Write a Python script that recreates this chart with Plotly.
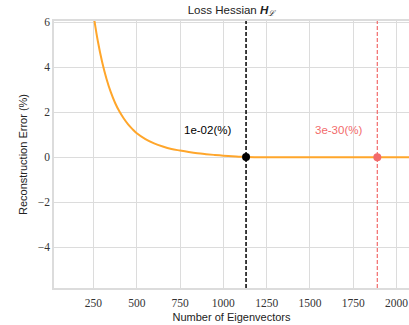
import plotly.graph_objects as go

# Data
eig_x = [250, 275, 300, 325, 350, 375, 400, 425, 450, 475, 500, 550, 600, 650, 700,
         750, 800, 850, 900, 950, 1000, 1050, 1100, 1131, 1200, 1300, 1400, 1500,
         1600, 1700, 1800, 1889, 1950, 2000, 2080]
err_y = [6.33, 5.16, 4.23, 3.49, 2.89, 2.41, 2.03, 1.72, 1.46, 1.25, 1.07, 0.81, 0.62, 0.48, 0.37,
         0.30, 0.235, 0.18, 0.14, 0.105, 0.075, 0.05, 0.03, 0.01, 0.004, 0.002, 0.001, 0.0,
         0.0, 0.0, 0.0, 0.0, 0.0, 0.0, 0.0]
thresh_black = 1131
thresh_red = 1889
label_black = "1e-02(%)"
label_red = "3e-30(%)"
x_ticks = [250, 500, 750, 1000, 1250, 1500, 1750, 2000]
y_ticks = [-4, -2, 0, 2, 4, 6]

ORANGE = "#FFA62B"
RED = "#F26B6B"
GRID = "#DCDCDC"
SANS = "Liberation Sans"
SERIF = "Liberation Serif"

fig = go.Figure()
fig.add_trace(go.Scatter(x=eig_x, y=err_y, mode="lines",
                         line=dict(color=ORANGE, width=2, shape="spline", smoothing=1.0),
                         hoverinfo="skip"))
fig.add_vline(x=thresh_black, line=dict(color="black", width=1.5, dash="4px,2px"))
fig.add_vline(x=thresh_red, line=dict(color=RED, width=1.2, dash="4px,2px"))
fig.add_trace(go.Scatter(x=[thresh_black], y=[0.01], mode="markers",
                         marker=dict(color="black", size=8)))
fig.add_trace(go.Scatter(x=[thresh_red], y=[0.0], mode="markers",
                         marker=dict(color=RED, size=8)))
fig.add_annotation(x=910, y=1.2, text=label_black, showarrow=False,
                   font=dict(family=SANS, size=11.5, color="black"))
fig.add_annotation(x=1666, y=1.2, text=label_red, showarrow=False,
                   font=dict(family=SANS, size=11.5, color=RED))

fig.update_layout(
    width=409, height=325,
    margin=dict(l=54, r=0, t=21, b=37, autoexpand=False),
    paper_bgcolor="white", plot_bgcolor="white",
    showlegend=False,
    title=dict(text="Loss Hessian <b><i>H</i></b><sub><i>ℒ</i></sub>",
               x=0.5, xanchor="center", y=0.97, yanchor="middle",
               xref="paper", yref="container",
               font=dict(family=SANS, size=11.5, color="#222")),
    xaxis=dict(range=[22, 2072], tickvals=x_ticks, automargin=False,
               ticktext=[str(v) for v in x_ticks],
               showgrid=True, gridcolor=GRID, gridwidth=1.3,
               showline=True, linecolor=GRID, linewidth=1.5, mirror=True,
               ticks="", zeroline=False, ticklabelstandoff=3,
               tickfont=dict(family=SERIF, size=11.5, color="#333"),
               title=dict(text="Number of Eigenvectors", standoff=6,
                          font=dict(family=SANS, size=11, color="#222"))),
    yaxis=dict(range=[-5.8, 6.05], tickvals=y_ticks, automargin=False,
               ticktext=[("−" + str(-v)) if v < 0 else str(v) for v in y_ticks],
               showgrid=True, gridcolor=GRID, gridwidth=1.3,
               showline=True, linecolor=GRID, linewidth=1.5, mirror=True,
               ticks="", zeroline=False,
               tickfont=dict(family=SERIF, size=11.5, color="#333"),
               title=dict(text="Reconstruction Error (%)", standoff=8,
                          font=dict(family=SANS, size=11, color="#222"))),
)

fig.write_html("out.html", config={"displayModeBar": False},
               post_script="document.body.style.margin='0px';")
